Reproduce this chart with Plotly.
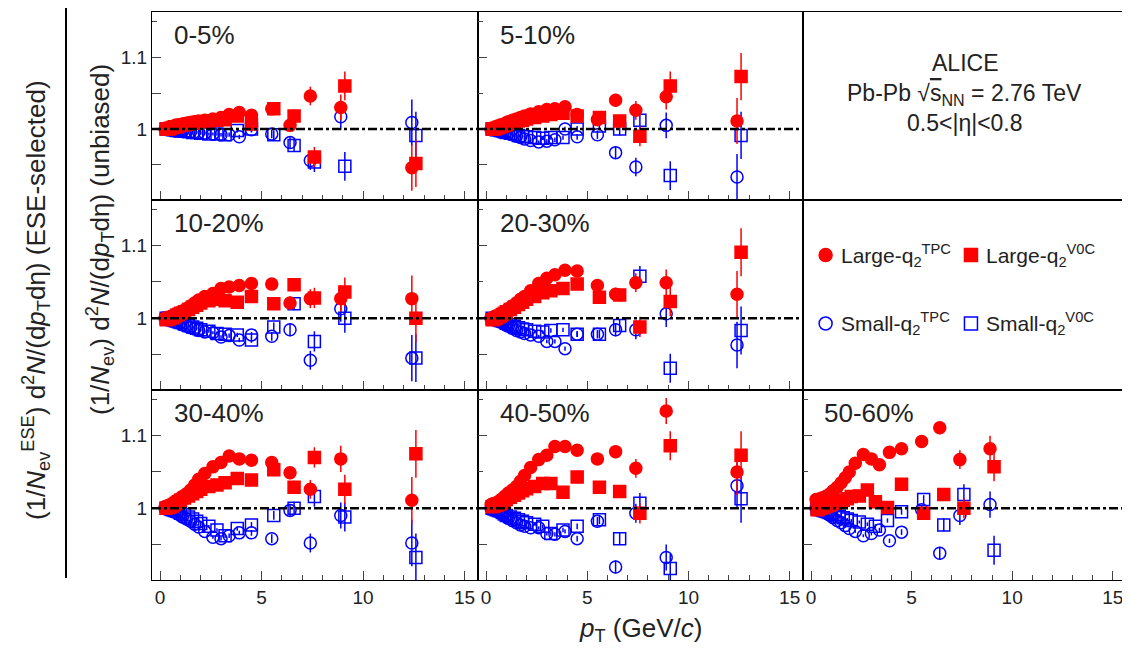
import plotly.graph_objects as go

W, H = 1130, 656
OFF = 8  # page body margin in the browser
FW, FH = 1120, H - 2 * OFF

# pT grids (GeV/c)
pt_tpc = [0.25, 0.35, 0.45, 0.55, 0.65, 0.75, 0.85, 0.95, 1.1, 1.3, 1.5, 1.7,
          1.9, 2.2, 2.6, 3.0, 3.4, 3.9, 4.5, 5.5, 6.4, 7.4, 8.9, 12.4]
pt_v0c = [0.3, 0.4, 0.5, 0.6, 0.7, 0.8, 0.9, 1.0, 1.2, 1.4, 1.6, 1.8, 2.0,
          2.4, 2.8, 3.2, 3.8, 4.5, 5.6, 6.6, 7.6, 9.1, 12.6]
err_tpc = [0.001, 0.001, 0.001, 0.001, 0.001, 0.001, 0.001, 0.001, 0.001,
           0.001, 0.0015, 0.0015, 0.0015, 0.002, 0.002, 0.0025, 0.003, 0.003,
           0.004, 0.006, 0.009, 0.013, 0.018, 0.032]
err_v0c = [0.001, 0.001, 0.001, 0.001, 0.001, 0.001, 0.001, 0.001, 0.001,
           0.0015, 0.0015, 0.0015, 0.002, 0.002, 0.0025, 0.003, 0.003, 0.004,
           0.006, 0.009, 0.014, 0.02, 0.033]

centralities = ["0-5%", "5-10%", "10-20%", "20-30%", "30-40%", "40-50%", "50-60%"]

large_tpc = [
    [1.0, 1.0, 1.001, 1.002, 1.003, 1.004, 1.005, 1.006, 1.007, 1.008, 1.009, 1.010, 1.011, 1.012, 1.014, 1.016, 1.020, 1.023, 1.019, 1.028, 1.005, 1.046, 1.030, 0.946],
    [1.0, 1.0, 1.001, 1.002, 1.003, 1.005, 1.006, 1.008, 1.010, 1.012, 1.014, 1.016, 1.018, 1.021, 1.024, 1.027, 1.028, 1.031, 1.020, 1.013, 1.040, 1.026, 1.045, 1.011],
    [1.0, 1.0, 1.001, 1.002, 1.003, 1.005, 1.006, 1.008, 1.010, 1.013, 1.017, 1.021, 1.025, 1.030, 1.034, 1.041, 1.043, 1.045, 1.048, 1.047, 1.021, 1.027, 1.027, 1.027],
    [1.0, 1.0, 1.001, 1.002, 1.004, 1.006, 1.008, 1.010, 1.013, 1.017, 1.021, 1.026, 1.030, 1.038, 1.048, 1.055, 1.060, 1.066, 1.065, 1.045, 1.033, 1.049, 1.049, 1.033],
    [1.002, 1.003, 1.004, 1.005, 1.007, 1.009, 1.011, 1.013, 1.016, 1.020, 1.025, 1.032, 1.040, 1.048, 1.057, 1.063, 1.072, 1.068, 1.066, 1.063, 1.049, 1.026, 1.068, 1.011],
    [1.005, 1.006, 1.007, 1.008, 1.010, 1.012, 1.014, 1.017, 1.021, 1.025, 1.030, 1.037, 1.045, 1.056, 1.067, 1.073, 1.085, 1.085, 1.080, 1.068, 1.078, 1.055, 1.134, 1.050],
    [1.012, 1.012, 1.013, 1.014, 1.015, 1.016, 1.018, 1.020, 1.024, 1.029, 1.035, 1.042, 1.050, 1.062, 1.074, 1.068, 1.060, 1.077, 1.082, 1.092, 1.111, 1.067, 1.082, None],
]
large_v0c = [
    [1.0, 1.0, 1.001, 1.002, 1.003, 1.003, 1.004, 1.005, 1.006, 1.007, 1.008, 1.009, 1.010, 1.011, 1.012, 1.013, 1.018, 1.007, 1.028, 1.018, 0.961, 1.060, 0.952],
    [1.0, 1.0, 1.001, 1.002, 1.003, 1.004, 1.005, 1.006, 1.008, 1.009, 1.011, 1.012, 1.014, 1.016, 1.018, 1.020, 1.022, 1.018, 1.016, 1.011, 0.990, 1.060, 1.073],
    [0.998, 0.999, 1.0, 1.001, 1.002, 1.004, 1.005, 1.007, 1.009, 1.012, 1.015, 1.018, 1.021, 1.024, 1.026, 1.024, 1.022, 1.030, 1.020, 1.046, 1.028, 1.036, 1.000],
    [0.998, 0.999, 1.0, 1.002, 1.003, 1.005, 1.007, 1.009, 1.012, 1.015, 1.019, 1.022, 1.026, 1.030, 1.035, 1.038, 1.041, 1.047, 1.029, 1.032, 0.988, 1.023, 1.091],
    [1.0, 1.001, 1.002, 1.003, 1.005, 1.007, 1.009, 1.011, 1.014, 1.017, 1.020, 1.023, 1.026, 1.030, 1.032, 1.035, 1.041, 1.039, 1.053, 1.029, 1.070, 1.026, 1.075],
    [1.002, 1.003, 1.004, 1.005, 1.006, 1.008, 1.010, 1.012, 1.015, 1.018, 1.021, 1.024, 1.027, 1.030, 1.034, 1.034, 1.022, 1.043, 1.029, 1.023, 0.993, 1.086, 1.073],
    [0.998, 0.999, 1.0, 1.001, 1.002, 1.003, 1.004, 1.005, 1.007, 1.009, 1.011, 1.013, 1.016, 1.017, 1.025, 1.009, 1.001, 1.033, 0.993, 1.019, 1.000, 1.057, None],
]
small_tpc = [
    [1.0, 1.0, 1.0, 0.999, 0.999, 0.999, 0.998, 0.998, 0.997, 0.997, 0.996, 0.996, 0.995, 0.994, 0.993, 0.992, 0.992, 0.989, 0.999, 0.993, 0.981, 0.956, 1.017, 1.009],
    [1.0, 1.0, 0.999, 0.999, 0.998, 0.997, 0.996, 0.995, 0.994, 0.992, 0.990, 0.988, 0.986, 0.984, 0.982, 0.983, 0.985, 1.0, 0.989, 0.992, 0.967, 0.947, 1.005, 0.933],
    [1.0, 1.0, 0.999, 0.998, 0.997, 0.996, 0.995, 0.993, 0.991, 0.989, 0.987, 0.985, 0.983, 0.981, 0.980, 0.974, 0.976, 0.970, 0.977, 0.975, 0.984, 0.942, 1.013, 0.945],
    [1.0, 0.999, 0.998, 0.997, 0.996, 0.995, 0.993, 0.991, 0.989, 0.986, 0.983, 0.981, 0.979, 0.977, 0.975, 0.968, 0.968, 0.958, 0.978, 0.978, 0.984, 0.984, 1.006, 0.963],
    [1.0, 0.999, 0.998, 0.997, 0.996, 0.995, 0.993, 0.991, 0.988, 0.985, 0.982, 0.978, 0.974, 0.968, 0.960, 0.958, 0.962, 0.966, 0.966, 0.958, 0.997, 0.952, 0.990, 0.952],
    [1.0, 0.999, 0.998, 0.997, 0.995, 0.993, 0.991, 0.989, 0.986, 0.983, 0.980, 0.977, 0.975, 0.973, 0.973, 0.965, 0.964, 0.968, 0.958, 0.982, 0.919, 0.993, 0.932, 1.031],
    [1.0, 0.999, 0.998, 0.997, 0.996, 0.994, 0.992, 0.990, 0.987, 0.983, 0.980, 0.976, 0.972, 0.968, 0.962, 0.965, 0.970, 0.955, 0.967, 0.998, 0.938, 0.990, 1.005, None],
]
small_v0c = [
    [1.0, 1.0, 1.0, 0.999, 0.999, 0.998, 0.998, 0.997, 0.997, 0.996, 0.995, 0.995, 0.994, 0.993, 0.993, 0.992, 0.998, 1.000, 0.992, 0.977, 0.954, 0.948, 0.991],
    [1.0, 1.0, 0.999, 0.999, 0.998, 0.997, 0.996, 0.995, 0.994, 0.993, 0.991, 0.990, 0.989, 0.988, 0.987, 0.988, 0.988, 1.000, 1.004, 1.000, 1.012, 0.935, 0.991],
    [1.0, 1.0, 0.999, 0.998, 0.997, 0.996, 0.995, 0.994, 0.992, 0.990, 0.988, 0.986, 0.984, 0.982, 0.979, 0.978, 0.977, 0.970, 0.988, 1.020, 0.968, 1.000, 0.945],
    [1.0, 0.999, 0.999, 0.998, 0.997, 0.996, 0.995, 0.993, 0.991, 0.989, 0.987, 0.985, 0.984, 0.982, 0.981, 0.983, 0.984, 0.978, 0.978, 0.990, 1.058, 0.931, 0.983],
    [1.0, 1.0, 0.999, 0.998, 0.997, 0.996, 0.995, 0.993, 0.991, 0.988, 0.985, 0.982, 0.979, 0.975, 0.970, 0.962, 0.972, 0.977, 0.990, 1.000, 1.016, 0.988, 0.932],
    [1.0, 0.999, 0.998, 0.997, 0.996, 0.994, 0.992, 0.990, 0.988, 0.986, 0.984, 0.982, 0.980, 0.978, 0.975, 0.965, 0.970, 0.975, 0.984, 0.958, 1.007, 0.917, 1.013],
    [1.0, 0.999, 0.998, 0.997, 0.996, 0.995, 0.994, 0.993, 0.991, 0.989, 0.987, 0.985, 0.983, 0.981, 0.978, 0.975, 0.983, 0.995, 1.012, 0.977, 1.019, 0.942, None],
]

RED, BLUE = "#ff0000", "#0000ff"
FONT = "Liberation Sans, Arial"
XR, YR = [-0.4, 15.66], [0.901, 1.163]

col_px = [(152, 478), (478, 803), (803, 1126)]
row_px = [(12, 200), (200, 390), (390, 580)]
# which centrality goes in which grid cell (None = text / legend cell)
cell_panel = [0, 1, None, 2, 3, None, 4, 5, 6]


def px_x(p):
    return min(max((p - OFF) / FW, 0), 1)


def px_y(p):
    return min(max(1 - (p - OFF) / FH, 0), 1)


fig = go.Figure()
layout = {}
shapes = []
annotations = []

for k in range(9):
    r, c = divmod(k, 3)
    suffix = "" if k == 0 else str(k + 1)
    data_panel = cell_panel[k]
    tk = "" if data_panel is None else "inside"
    layout["xaxis" + suffix] = dict(
        domain=[px_x(col_px[c][0]), px_x(col_px[c][1])], anchor="y" + suffix,
        range=XR, showline=True, linecolor="black", linewidth=1.2, mirror=True,
        ticks=tk, ticklen=9, tickvals=[0, 5, 10, 15], showticklabels=(r == 2),
        minor=dict(ticks=tk, ticklen=5, dtick=1, tick0=0),
        showgrid=False, zeroline=False,
        tickfont=dict(size=19, family=FONT, color="#222"))
    layout["yaxis" + suffix] = dict(
        domain=[px_y(row_px[r][1]), px_y(row_px[r][0])], anchor="x" + suffix,
        range=YR, showline=True, linecolor="black", linewidth=1.2, mirror=True,
        ticks=tk, ticklen=9, tickvals=[0.95, 1.0, 1.05, 1.1],
        ticktext=["", "1", "", "1.1"], showticklabels=(c == 0),
        minor=dict(ticks=tk, ticklen=5, dtick=0.05),
        showgrid=False, zeroline=False,
        tickfont=dict(size=19, family=FONT, color="#222"))
    xa, ya = "x" + suffix, "y" + suffix
    if data_panel is None:
        fig.add_trace(go.Scatter(x=[None], y=[None], xaxis=xa, yaxis=ya,
                                 showlegend=False, hoverinfo="skip"))
        continue
    shapes.append(dict(type="line", xref=xa + " domain", yref=ya, x0=0, x1=1,
                       y0=1, y1=1, line=dict(color="black", width=2.5,
                                             dash="dashdot")))
    annotations.append(dict(text=centralities[data_panel], xref=xa + " domain",
                            yref=ya + " domain", x=0.06, y=0.97,
                            xanchor="left", yanchor="top", showarrow=False,
                            font=dict(size=26, family=FONT, color="#222")))
    for xs, ys, es, sym, col in [
        (pt_tpc, small_tpc[data_panel], err_tpc, "circle-open", BLUE),
        (pt_v0c, small_v0c[data_panel], err_v0c, "square-open", BLUE),
        (pt_v0c, large_v0c[data_panel], err_v0c, "square", RED),
        (pt_tpc, large_tpc[data_panel], err_tpc, "circle", RED),
    ]:
        fig.add_trace(go.Scatter(
            x=xs, y=ys, mode="markers", xaxis=xa, yaxis=ya, showlegend=False,
            marker=dict(symbol=sym, size=12, color=col,
                        line=dict(color=col, width=1.5)),
            error_y=dict(type="data", array=es, color=col, thickness=1.5,
                         width=0)))

# legend cell (row 2, col 3)
for lx, ly, sym, col in [(0.07, 0.71, "circle", RED), (0.52, 0.71, "square", RED),
                         (0.07, 0.35, "circle-open", BLUE),
                         (0.52, 0.35, "square-open", BLUE)]:
    fig.add_trace(go.Scatter(x=[XR[0] + lx * (XR[1] - XR[0])],
                             y=[YR[0] + ly * (YR[1] - YR[0])],
                             mode="markers", xaxis="x6", yaxis="y6",
                             showlegend=False,
                             marker=dict(symbol=sym, size=13, color=col,
                                         line=dict(color=col, width=1.5))))
for lx, ly, txt in [(0.11, 0.71, "Large-q<sub>2</sub><sup>TPC</sup>"),
                    (0.56, 0.71, "Large-q<sub>2</sub><sup>V0C</sup>"),
                    (0.11, 0.35, "Small-q<sub>2</sub><sup>TPC</sup>"),
                    (0.56, 0.35, "Small-q<sub>2</sub><sup>V0C</sup>")]:
    annotations.append(dict(text=txt, xref="x6 domain", yref="y6 domain",
                            x=lx, y=ly, xanchor="left", yanchor="middle",
                            showarrow=False,
                            font=dict(size=21, family=FONT, color="#222")))

for ty, txt in [(0.81, "ALICE"),
                (0.56, "Pb-Pb &#8730;<span style='text-decoration:overline'>s</span><sub>NN</sub> = 2.76 TeV"),
                (0.33, "0.5<|η|<0.8")]:
    annotations.append(dict(text=txt, xref="x3 domain", yref="y3 domain",
                            x=0.5, y=ty, showarrow=False,
                            font=dict(size=23, family=FONT, color="#222")))

annotations.append(dict(text="<i>p</i><sub>T</sub> (GeV/<i>c</i>)",
                        xref="paper", yref="paper", x=px_x(640), y=px_y(650),
                        showarrow=False,
                        font=dict(size=26, family=FONT, color="#222")))
annotations.append(dict(
    text="(1/<i>N</i><sub>ev</sub><sup>ESE</sup>) d<sup>2</sup><i>N</i>/(d<i>p</i><sub>T</sub>dη) (ESE-selected)",
    xref="paper", yref="paper", x=px_x(16), y=px_y(300), textangle=-90,
    showarrow=False, font=dict(size=26, family=FONT, color="#222")))
annotations.append(dict(
    text="(1/<i>N</i><sub>ev</sub>) d<sup>2</sup><i>N</i>/(d<i>p</i><sub>T</sub>dη) (unbiased)",
    xref="paper", yref="paper", x=px_x(80), y=px_y(240), textangle=-90,
    showarrow=False, font=dict(size=26, family=FONT, color="#222")))
shapes.append(dict(type="line", xref="paper", yref="paper", x0=px_x(66),
                   x1=px_x(66), y0=px_y(578), y1=px_y(8),
                   line=dict(color="black", width=2)))

fig.update_layout(**layout)
fig.update_layout(width=FW, height=FH, margin=dict(l=0, r=0, t=0, b=0),
                  plot_bgcolor="white", paper_bgcolor="white",
                  shapes=shapes, annotations=annotations)
fig.write_html("out.html")
